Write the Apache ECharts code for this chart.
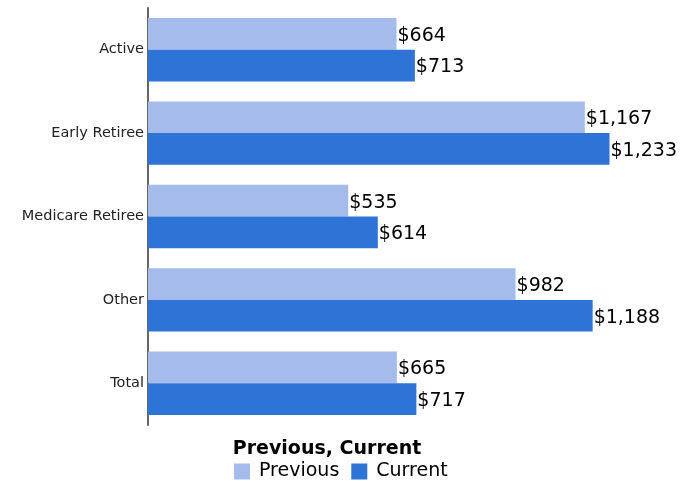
<!DOCTYPE html>
<html>
<head>
<meta charset="utf-8">
<script src="https://cdn.jsdelivr.net/npm/echarts@6/dist/echarts.min.js"></script>
<style>html,body{margin:0;padding:0;background:#fff;}#c{width:698px;height:481px;}</style>
</head>
<body>
<div id="c"></div>
<script>
const categories = ["Active", "Early Retiree", "Medicare Retiree", "Other", "Total"];
const previousValues = [664, 1167, 535, 982, 665];
const currentValues = [713, 1233, 614, 1188, 717];
const seriesNames = ["Previous", "Current"];

const chart = echarts.init(document.getElementById('c'), null, {renderer: 'canvas'});
const fmt = v => '$' + v.toLocaleString('en-US');
const labelCfg = {
  show: true, position: 'right', distance: 1,
  color: '#000', fontSize: 19, fontFamily: 'DejaVu Sans',
  formatter: p => fmt(p.value)
};
chart.setOption({
  animation: false,
  backgroundColor: '#fff',
  title: {
    text: 'Previous, Current',
    left: 322, top: 435, textAlign: 'center',
    textStyle: {fontFamily: 'DejaVu Sans', fontSize: 19, fontWeight: 'bold', color: '#000'}
  },
  legend: {
    data: seriesNames,
    left: 234, top: 462,
    itemWidth: 16, itemHeight: 16, itemGap: 12, padding: 0,
    icon: 'rect',
    textStyle: {fontFamily: 'DejaVu Sans', fontSize: 19, color: '#000', padding: [0, 0, 0, 4]}
  },
  grid: {left: 148, right: 26, top: 8, bottom: 56, containLabel: false},
  xAxis: {type: 'value', min: 0, max: 1400, show: false},
  yAxis: {
    type: 'category', data: categories, inverse: true,
    axisLine: {show: true, lineStyle: {color: '#666', width: 2}},
    axisTick: {show: false},
    axisLabel: {fontFamily: 'DejaVu Sans', fontSize: 14.5, color: '#222', margin: 4}
  },
  series: [
    {name: seriesNames[0], type: 'bar', data: previousValues, barGap: '0%', barCategoryGap: '24%',
     itemStyle: {color: '#A5BBEC'}, label: Object.assign({}, labelCfg, {offset: [0, 2]})},
    {name: seriesNames[1], type: 'bar', data: currentValues, barGap: '0%', barCategoryGap: '24%',
     itemStyle: {color: '#2E73D6'}, label: Object.assign({}, labelCfg, {offset: [0, 2]})}
  ]
});
</script>
</body>
</html>
